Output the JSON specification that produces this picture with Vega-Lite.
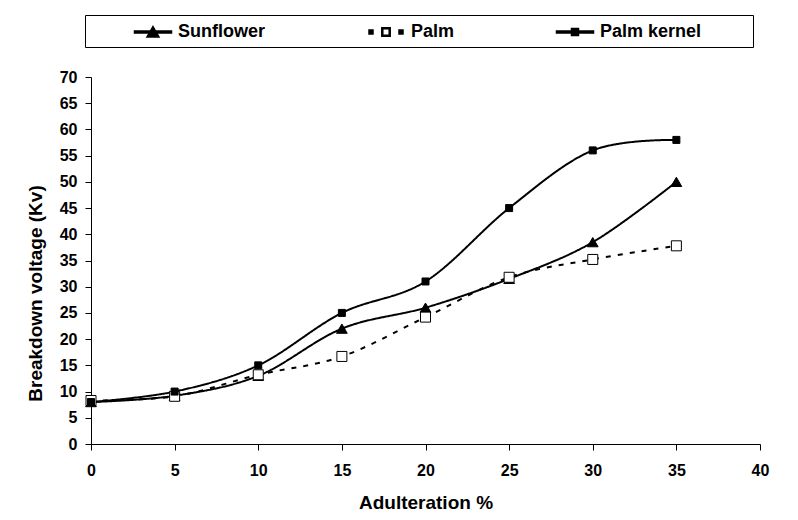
{
  "$schema": "https://vega.github.io/schema/vega-lite/v6.json",
  "width": 669,
  "height": 367,
  "autosize": {"type": "none"},
  "padding": {"left": 91, "top": 77, "right": 38, "bottom": 76},
  "background": "white",
  "config": {
    "view": {"stroke": null},
    "font": "Liberation Sans",
    "axis": {
      "grid": false,
      "domainColor": "black",
      "domainWidth": 1,
      "tickColor": "black",
      "tickSize": 6,
      "labelFont": "Liberation Sans",
      "labelFontSize": 16,
      "labelFontWeight": "bold",
      "labelColor": "black",
      "labelFlush": false,
      "labelOverlap": false,
      "titleFont": "Liberation Sans",
      "titleFontSize": 19,
      "titleFontWeight": "bold",
      "titleColor": "black"
    }
  },
  "data": {
    "values": [
      {"x": 0, "v": 8, "series": "Sunflower"},
      {"x": 5, "v": 9.2, "series": "Sunflower"},
      {"x": 10, "v": 13, "series": "Sunflower"},
      {"x": 15, "v": 22, "series": "Sunflower"},
      {"x": 20, "v": 26, "series": "Sunflower"},
      {"x": 25, "v": 31.5, "series": "Sunflower"},
      {"x": 30, "v": 38.5, "series": "Sunflower"},
      {"x": 35, "v": 50, "series": "Sunflower"},
      {"x": 0, "v": 8.3, "series": "Palm"},
      {"x": 5, "v": 9.1, "series": "Palm"},
      {"x": 10, "v": 13.2, "series": "Palm"},
      {"x": 15, "v": 16.7, "series": "Palm"},
      {"x": 20, "v": 24.2, "series": "Palm"},
      {"x": 25, "v": 31.8, "series": "Palm"},
      {"x": 30, "v": 35.2, "series": "Palm"},
      {"x": 35, "v": 37.8, "series": "Palm"},
      {"x": 0, "v": 8, "series": "Palm kernel"},
      {"x": 5, "v": 10, "series": "Palm kernel"},
      {"x": 10, "v": 15, "series": "Palm kernel"},
      {"x": 15, "v": 25, "series": "Palm kernel"},
      {"x": 20, "v": 31, "series": "Palm kernel"},
      {"x": 25, "v": 45, "series": "Palm kernel"},
      {"x": 30, "v": 56, "series": "Palm kernel"},
      {"x": 35, "v": 58, "series": "Palm kernel"}
    ]
  },
  "encoding": {
    "x": {
      "field": "x",
      "type": "quantitative",
      "scale": {"domain": [0, 40], "nice": false},
      "axis": {
        "title": "Adulteration %",
        "values": [0, 5, 10, 15, 20, 25, 30, 35, 40],
        "labelPadding": 12,
        "titleY": 49
      }
    },
    "y": {
      "field": "v",
      "type": "quantitative",
      "scale": {"domain": [0, 70], "nice": false},
      "axis": {
        "title": "Breakdown voltage (Kv)",
        "values": [0, 5, 10, 15, 20, 25, 30, 35, 40, 45, 50, 55, 60, 65, 70],
        "labelPadding": 8,
        "titleX": -56,
        "titleY": 216,
        "titleBaseline": "middle",
        "titleAlign": "center"
      }
    }
  },
  "layer": [
    {
      "mark": {"type": "point", "opacity": 0, "stroke": "black", "strokeWidth": 2},
      "encoding": {
        "shape": {
          "field": "series",
          "scale": {
            "domain": ["Sunflower", "Palm", "Palm kernel"],
            "range": [
              "M-1.85,-0.1H1.85V0.1H-1.85ZM0,-0.55L0.6,0.5L-0.6,0.5Z",
              "M-1.7,-0.2H-1.3V0.2H-1.7ZM1.3,-0.2H1.7V0.2H1.3ZM-0.42,-0.42H0.42V0.42H-0.42ZM-0.32,-0.32V0.32H0.32V-0.32Z",
              "M-1.85,-0.1H1.85V0.1H-1.85ZM-0.35,-0.35H0.35V0.35H-0.35Z"
            ]
          },
          "legend": {
            "title": null,
            "orient": "none",
            "legendX": -6,
            "legendY": -62,
            "direction": "horizontal",
            "columns": 3,
            "padding": 6,
            "strokeColor": "black",
            "fillColor": "white",
            "symbolSize": 400,
            "symbolOpacity": 1,
            "symbolOffset": 51,
            "labelOffset": 14,
            "columnPadding": 58,
            "labelFont": "Liberation Sans",
            "labelFontSize": 18,
            "labelFontWeight": "bold",
            "labelColor": "black",
            "labelLimit": 300,
            "labelExpr": "datum.label == 'Palm kernel' ? datum.label + '\u00a0\u00a0\u00a0\u00a0\u00a0\u00a0\u00a0\u00a0\u00a0\u200b' : datum.label"
          }
        },
        "fill": {
          "field": "series",
          "scale": {"domain": ["Sunflower", "Palm", "Palm kernel"], "range": ["black", "black", "black"]}
        }
      }
    },
    {
      "mark": {"type": "line", "interpolate": "cardinal", "color": "black", "strokeWidth": 2},
      "encoding": {
        "detail": {"field": "series"},
        "strokeDash": {
          "condition": {"test": "datum.series === 'Palm'", "value": [5, 7]},
          "value": [1, 0]
        }
      }
    },
    {
      "mark": {"type": "point", "opacity": 1, "stroke": "black", "strokeWidth": 1},
      "encoding": {
        "shape": {
          "condition": {"test": "datum.series === 'Sunflower'", "value": "triangle-up"},
          "value": "square"
        },
        "fill": {
          "condition": {"test": "datum.series === 'Palm'", "value": "white"},
          "value": "black"
        },
        "size": {
          "condition": [
            {"test": "datum.series === 'Palm kernel'", "value": 49},
            {"test": "datum.series === 'Palm'", "value": 100}
          ],
          "value": 115
        }
      }
    }
  ]
}
